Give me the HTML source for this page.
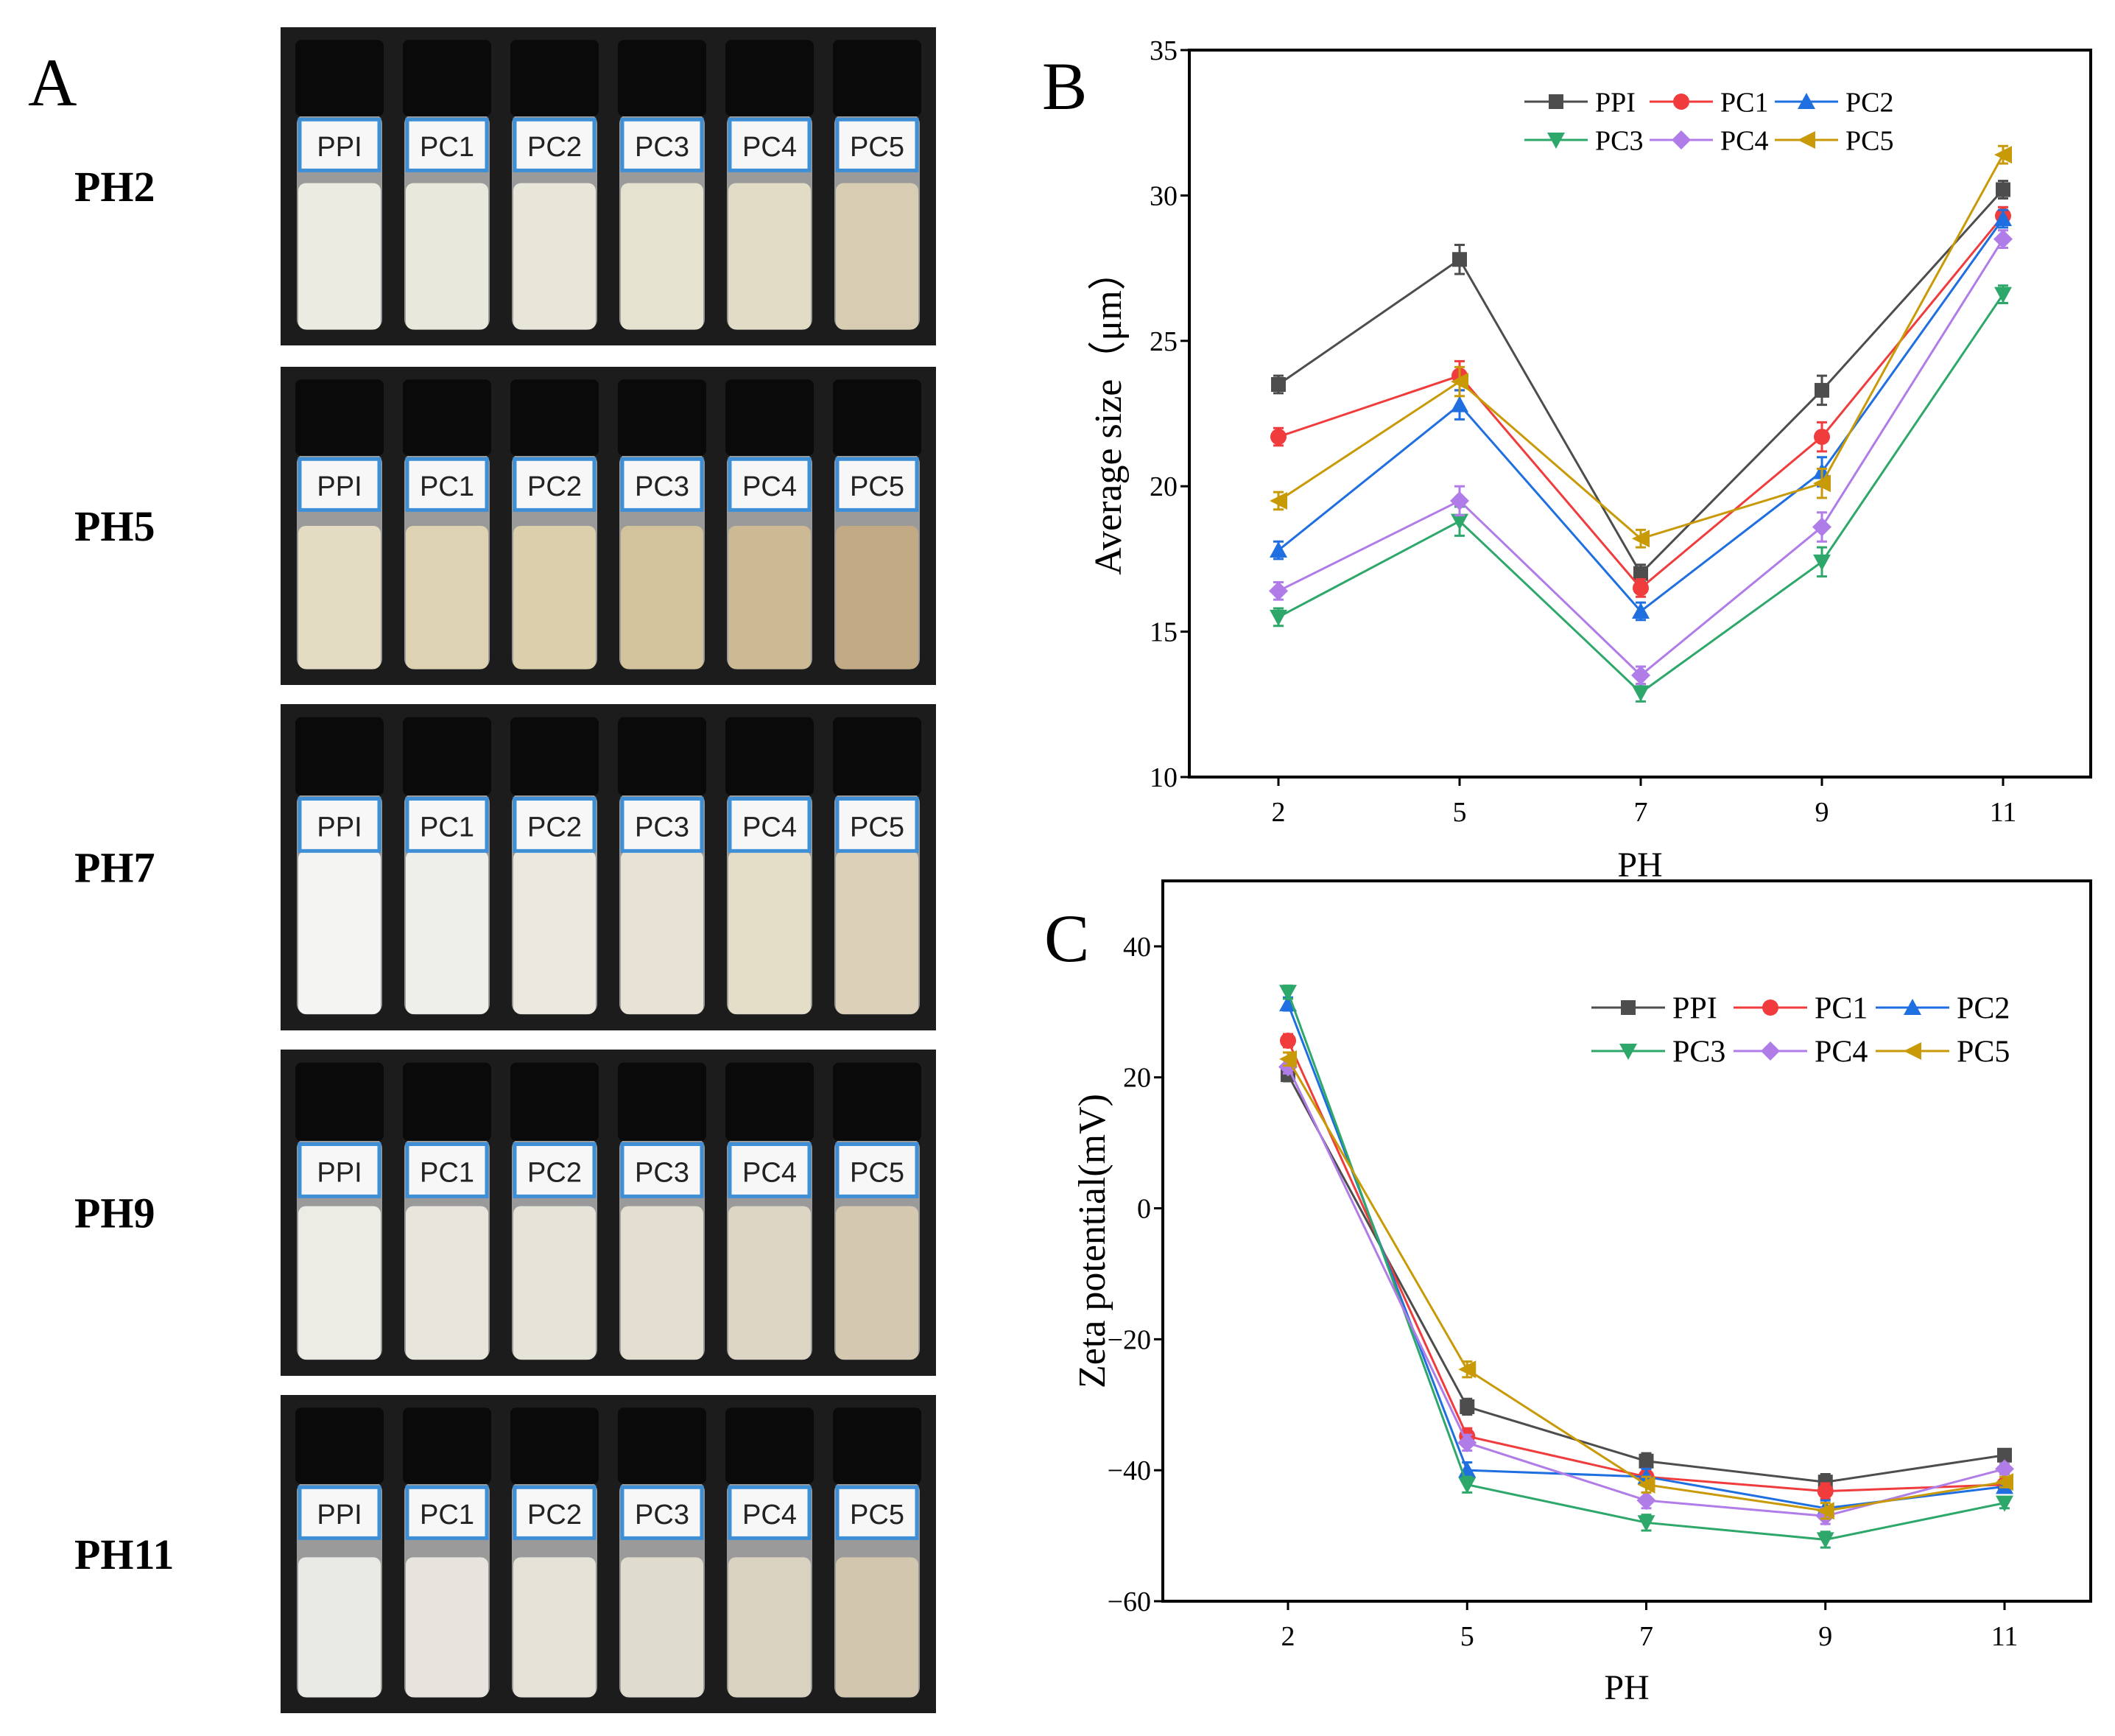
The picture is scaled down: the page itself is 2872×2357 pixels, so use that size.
<!DOCTYPE html>
<html><head><meta charset="utf-8">
<style>
html,body{margin:0;padding:0;background:#fff;}
body{width:2872px;height:2357px;position:relative;overflow:hidden;font-family:"Liberation Serif",serif;}
svg{position:absolute;left:0;top:0;}
</style></head>
<body>
<svg id="fig" width="2872" height="2357" viewBox="0 0 2872 2357" xmlns="http://www.w3.org/2000/svg"></svg>
<script>
const NS="http://www.w3.org/2000/svg";
const svg=document.getElementById('fig');
function el(tag,attrs,parent,text){const e=document.createElementNS(NS,tag);for(const k in attrs)e.setAttribute(k,attrs[k]);if(text!==undefined)e.textContent=text;(parent||svg).appendChild(e);return e;}

// ---------- Data ----------
const categories=["2","5","7","9","11"];
const seriesNames=["PPI","PC1","PC2","PC3","PC4","PC5"];
const seriesColors=["#4d4d4d","#f03c3c","#1f6fe0","#2ea86a","#b07ce8","#c99a08"];
const seriesMarkers=["square","circle","up","down","diamond","left"];
const sizePPI=[23.5,27.8,17.0,23.3,30.2];
const sizePC1=[21.7,23.8,16.5,21.7,29.3];
const sizePC2=[17.8,22.8,15.7,20.5,29.2];
const sizePC3=[15.5,18.8,12.9,17.4,26.6];
const sizePC4=[16.4,19.5,13.5,18.6,28.5];
const sizePC5=[19.5,23.6,18.2,20.1,31.4];
const sizeErr=[0.3,0.5,0.3,0.5,0.3];
const zetaPPI=[20.4,-30.3,-38.6,-41.8,-37.7];
const zetaPC1=[25.6,-34.8,-41.0,-43.2,-42.2];
const zetaPC2=[31.2,-40.0,-41.0,-45.8,-42.5];
const zetaPC3=[33.0,-42.2,-48.0,-50.6,-45.0];
const zetaPC4=[21.6,-35.8,-44.6,-47.0,-39.8];
const zetaPC5=[22.8,-24.6,-42.2,-46.2,-41.8];
const zetaErr=[1.0,1.2,1.2,1.2,0.8];
const sizeTicks=[10,15,20,25,30,35];
const zetaTicks=[-60,-40,-20,0,20,40];

// ---------- Panel A (photos) ----------
const phLabels=["PH2","PH5","PH7","PH9","PH11"];
const panelTops=[37,498,956,1425,1894];
const panelH=[432,432,443,443,432];
const liquidTop=[0.49,0.5,0.45,0.48,0.51];
const liquidColors=[
 ["#ecebe2","#e9e8dc","#e8e6d8","#e6e2d0","#e2dcc6","#d8cdb2"],
 ["#e4dcc2","#ddd2b2","#dcd0ac","#d3c39c","#cdb994","#c2aa84"],
 ["#f4f4f2","#efefea","#ebe9df","#e7e2d3","#e4ddc8","#dcd0b8"],
 ["#ecebe4","#e8e6dc","#e6e4d8","#e3ded0","#ddd6c4","#d4c8b0"],
 ["#e9e9e6","#e6e4dc","#e4e1d6","#e0dccd","#dad2c0","#d2c6ae"]];
const vialNames=["PPI","PC1","PC2","PC3","PC4","PC5"];
el('text',{x:38,y:143,'font-size':92,fill:'#000',},svg,'A');
for(let p=0;p<5;p++){
  const g=el('g',{});
  const top=panelTops[p],H=panelH[p],L=381,W=890;
  el('rect',{x:L,y:top,width:W,height:H,fill:'#1c1c1c'},g);
  for(let v=0;v<6;v++){
    const cx=L+80+v*146,vw=124,x0=cx-vw/2;
    const capT=top+H*0.04,capB=top+H*0.28;
    el('rect',{x:x0+4,y:capB-4,width:vw-8,height:H*0.68,rx:14,fill:'#c4c4c4',opacity:0.75},g);
    const lt=top+H*liquidTop[p];
    el('rect',{x:x0+6,y:lt,width:vw-12,height:top+H*0.95-lt,rx:10,fill:liquidColors[p][v]},g);
    el('rect',{x:x0+2,y:capT,width:vw-4,height:capB-capT,rx:8,fill:'#0a0a0a'},g);
    const lab=el('g',{},g);
    el('rect',{x:x0+8,y:top+H*0.29,width:vw-16,height:H*0.16,fill:'#f7f7f7',stroke:'#3f8fd6','stroke-width':5},lab);
    el('text',{x:cx,y:top+H*0.405,'font-size':38,'text-anchor':'middle',fill:'#222','font-family':'Liberation Sans, sans-serif'},lab,vialNames[v]);
  }
  el('text',{x:101,y:panelTops[p]+H*0.5+20,'font-size':58,'font-weight':'bold',fill:'#000',},svg,phLabels[p]);
}

// ---------- Marker ----------
function marker(g,shape,x,y,c){
  const s=10;
  if(shape==='square')el('rect',{x:x-s,y:y-s,width:2*s,height:2*s,fill:c},g);
  else if(shape==='circle')el('circle',{cx:x,cy:y,r:s+1,fill:c},g);
  else if(shape==='up')el('polygon',{points:`${x},${y-s-2} ${x+s+2},${y+s} ${x-s-2},${y+s}`,fill:c},g);
  else if(shape==='down')el('polygon',{points:`${x},${y+s+2} ${x+s+2},${y-s} ${x-s-2},${y-s}`,fill:c},g);
  else if(shape==='diamond')el('polygon',{points:`${x},${y-s-3} ${x+s+3},${y} ${x},${y+s+3} ${x-s-3},${y}`,fill:c},g);
  else if(shape==='left')el('polygon',{points:`${x-s-2},${y} ${x+s+2},${y-s-2} ${x+s+2},${y+s+2}`,fill:c},g);
}

// ---------- Chart builder ----------
function chart(o){
  const g=el('g',{});
  const xS=i=>o.x0+(o.x1-o.x0)*i/(categories.length-1);
  const yS=v=>o.B-(v-o.ymin)/(o.ymax-o.ymin)*(o.B-o.T);
  o.data.forEach((arr,si)=>{
    const sg=el('g',{},g);
    el('polyline',{points:arr.map((v,i)=>xS(i)+','+yS(v)).join(' '),fill:'none',stroke:seriesColors[si],'stroke-width':3},sg);
    arr.forEach((v,i)=>{
      const x=xS(i),e=o.err[i];
      el('path',{d:`M${x},${yS(v+e)}V${yS(v-e)}M${x-7},${yS(v+e)}H${x+7}M${x-7},${yS(v-e)}H${x+7}`,stroke:seriesColors[si],'stroke-width':3,fill:'none'},sg);
      marker(sg,seriesMarkers[si],x,yS(v),seriesColors[si]);
    });
  });
  el('rect',{x:o.L,y:o.T,width:o.R-o.L,height:o.B-o.T,fill:'none',stroke:'#000','stroke-width':4,},g);
  o.ticks.forEach(t=>{
    const y=yS(t);
    el('line',{x1:o.L-12,x2:o.L,y1:y,y2:y,stroke:'#000','stroke-width':3},g);
    el('text',{x:o.L-16,y:y+13,'font-size':38,'text-anchor':'end',fill:'#000'},g,(t<0?'\u2212'+(-t):t));
  });
  categories.forEach((c,i)=>{
    const x=xS(i);
    el('line',{x1:x,x2:x,y1:o.B,y2:o.B+12,stroke:'#000','stroke-width':3},g);
    el('text',{x:x,y:o.B+60,'font-size':38,'text-anchor':'middle',fill:'#000'},g,c);
  });
  el('text',{x:(o.L+o.R)/2,y:o.xTitleY,'font-size':48,'text-anchor':'middle',fill:'#000',},g,'PH');
  el('text',{x:0,y:0,'font-size':o.yFont,'text-anchor':'middle',fill:'#000',transform:`translate(${o.yTitleX},${(o.T+o.B)/2}) rotate(-90)`,},g,o.yTitle);
  el('text',{x:o.letterX,y:o.letterY,'font-size':92,fill:'#000',},g,o.letter);
  const lg=el('g',{},g);
  seriesNames.forEach((n,si)=>{
    const col=si%3,row=Math.floor(si/3);
    const x=o.legX+col*o.legDX,y=o.legY+row*o.legDY;
    const eg=el('g',{},lg);
    el('line',{x1:x,x2:x+o.legLine,y1:y,y2:y,stroke:seriesColors[si],'stroke-width':3},eg);
    marker(eg,seriesMarkers[si],x+o.legLine/2,y,seriesColors[si]);
    el('text',{x:x+o.legLine+10,y:y+o.legFont*0.35,'font-size':o.legFont,fill:'#000'},eg,n);
  });
}

chart({name:'chart-b-average-size',L:1615,R:2839,T:68,B:1055,x0:1736,x1:2720,ymin:10,ymax:35,ticks:sizeTicks,
  data:[sizePPI,sizePC1,sizePC2,sizePC3,sizePC4,sizePC5],err:sizeErr,
  xTitleY:1190,yTitleX:1522,yFont:52,yTitle:'Average size（μm）',letter:'B',letterX:1415,letterY:148,
  legX:2070,legY:138,legDX:170,legDY:52,legLine:86,legFont:38});
chart({name:'chart-c-zeta-potential',L:1579,R:2839,T:1196,B:2174,x0:1749,x1:2722,ymin:-60,ymax:50,ticks:zetaTicks,
  data:[zetaPPI,zetaPC1,zetaPC2,zetaPC3,zetaPC4,zetaPC5],err:zetaErr,
  xTitleY:2307,yTitleX:1500,yFont:52,yTitle:'Zeta potential(mV)',letter:'C',letterX:1418,letterY:1305,
  legX:2161,legY:1368,legDX:193,legDY:59,legLine:100,legFont:42});
</script>
</body></html>
